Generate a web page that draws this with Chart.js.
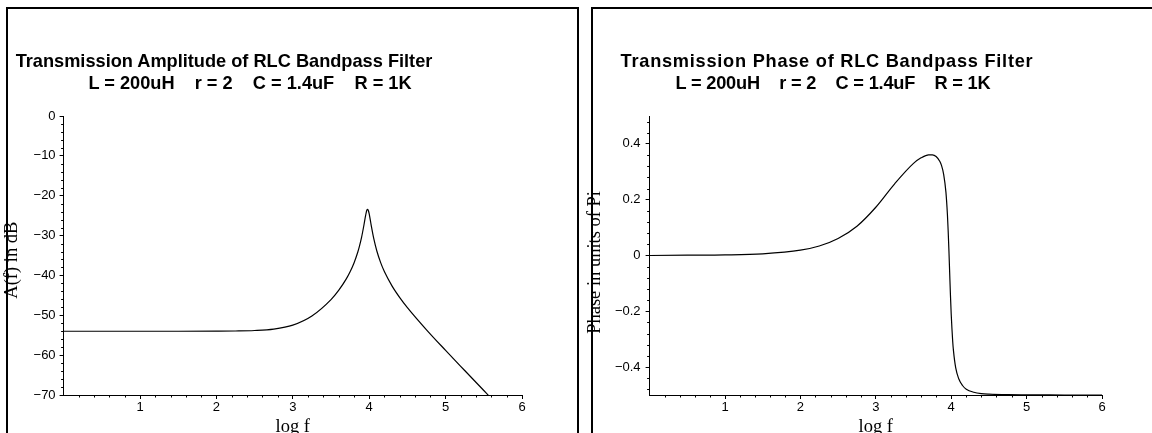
<!DOCTYPE html>
<html>
<head>
<meta charset="utf-8">
<title>RLC Bandpass Filter</title>
<script src="https://cdn.jsdelivr.net/npm/chart.js@4.4.0/dist/chart.umd.min.js"></script>
<style>
    html, body { margin: 0; padding: 0; background: #fff; }
    body { width: 1152px; height: 433px; overflow: hidden; position: relative; font-family: "Liberation Sans", Arial, sans-serif; }
    .frame { position: absolute; top: 7px; height: 600px; border: 2px solid #000; box-sizing: border-box; }
    .plot { position: absolute; top: 0; }
    .title { position: absolute; width: 600px; text-align: center; font-weight: bold; font-size: 18.2px; line-height: 22px; white-space: pre; color: #000; }
</style>
</head>
<body>
<div class="frame" style="left:6px; width:573px;"></div>
<div class="frame" style="left:591px; width:600px;"></div>

<canvas id="ampChart" class="plot" style="left:0;" width="580" height="450"></canvas>
<canvas id="phaseChart" class="plot" style="left:580px;" width="572" height="450"></canvas>

<div class="title" style="left:-76px; top:50px;">Transmission Amplitude of RLC Bandpass Filter</div>
<div class="title" style="left:-50px; top:72px;">L = 200uH    r = 2    C = 1.4uF    R = 1K</div>
<div class="title" style="left:527px; top:50px; letter-spacing:0.75px;">Transmission Phase of RLC Bandpass Filter</div>
<div class="title" style="left:533px; top:72px; letter-spacing:-0.2px;">L = 200uH    r = 2    C = 1.4uF    R = 1K</div>

<script>
// log10 of frequency (shared x values)
const logF = [0, 0.5, 1, 1.5, 2, 2.25, 2.5, 2.75, 3, 3.25, 3.5, 3.6, 3.7, 3.75, 3.8, 3.85, 3.87, 3.9,
    3.93, 3.95, 3.96, 3.97, 3.98, 3.99, 4.0, 4.02, 4.03, 4.06, 4.1, 4.15, 4.2, 4.3, 4.4, 4.5,
    4.75, 5.0, 5.25, 5.5, 5.56, 6];

// A(f) in dB
const amplitudeDb = [-54.0, -54.0, -54.0, -54.0, -53.98, -53.94, -53.82, -53.46, -52.46, -50.17, -46.06, -43.76, -40.87, -39.08, -36.93, -34.19, -32.85, -30.45,
    -27.47, -25.27, -24.29, -23.60, -23.41, -23.76, -24.56, -26.72, -27.83, -30.79, -33.87, -36.78, -39.08, -42.67, -45.55, -48.07,
    -53.64, -58.81, -63.86, -68.88, -70.08, -78.9];

// phase in units of Pi
const phasePi = [0.000, 0.001, 0.002, 0.006, 0.019, 0.034, 0.061, 0.105, 0.173, 0.257, 0.330, 0.350, 0.361, 0.361, 0.355, 0.337, 0.324, 0.291,
    0.227, 0.146, 0.087, 0.016, -0.064, -0.142, -0.210, -0.308, -0.341, -0.403, -0.442, -0.466, -0.479, -0.490, -0.495, -0.497,
    -0.499, -0.4995, -0.4998, -0.500, -0.500, -0.500];

// axis ranges
const xRange = [0, 6];
const ampRange = [-70, 0];
const phaseRange = [-0.5, 0.5];

Chart.defaults.font.family = '"Liberation Sans", Arial, sans-serif';
Chart.defaults.color = '#000';

const near = (a, b) => Math.abs(a - b) < 1e-6;
const minus = v => (v < 0 ? '\u2212' : '') + Math.abs(v);

const xTicks = { major: v => near(v, Math.round(v)), minor: v => true };
const ampTicks = { major: v => near(v / 10, Math.round(v / 10)), minor: v => true };
const phaseTicks = { major: v => near(v * 5, Math.round(v * 5)), minor: v => near(v * 25, Math.round(v * 25)) };

// short minor tick marks, drawn outside the axis line
function minorTicksPlugin(defs) {
    return {
        id: 'minorTicks',
        afterDraw(chart) {
            const ctx = chart.ctx;
            ctx.save();
            ctx.strokeStyle = '#000';
            ctx.lineWidth = 1;
            Object.values(chart.scales).forEach(scale => {
                const def = defs[scale.id];
                if (!def) return;
                scale.ticks.forEach(t => {
                    const v = t.value;
                    if (def.major(v) || !def.minor(v) || near(v, scale.min) || near(v, scale.max)) return;
                    const p = Math.round(scale.getPixelForValue(v)) + 0.5;
                    ctx.beginPath();
                    if (scale.isHorizontal()) {
                        ctx.moveTo(p, scale.top);
                        ctx.lineTo(p, scale.top + 2.5);
                    } else {
                        ctx.moveTo(scale.right, p);
                        ctx.lineTo(scale.right - 2.5, p);
                    }
                    ctx.stroke();
                });
            });
            ctx.restore();
        }
    };
}

function tickGrid(def, skipMin) {
    return {
        display: true,
        drawOnChartArea: false,
        drawTicks: true,
        tickLength: 4,
        tickWidth: 1,
        tickColor: c => {
            const v = c.tick ? c.tick.value : NaN;
            if (skipMin !== undefined && near(v, skipMin)) return 'rgba(0,0,0,0)';
            return def.major(v) ? '#000' : 'rgba(0,0,0,0)';
        }
    };
}

function makeChart(id, values, yRange, yStep, yDef, yLabel, yFormat, yAxisWidth, yTitlePad, yTickPad, padRight) {
    const points = logF.map((x, i) => ({ x: x, y: values[i] }));
    return new Chart(document.getElementById(id), {
        type: 'line',
        data: {
            datasets: [{
                data: points,
                borderColor: '#000',
                borderWidth: 1.2,
                pointRadius: 0,
                fill: false,
                cubicInterpolationMode: 'monotone'
            }]
        },
        options: {
            responsive: false,
            animation: false,
            events: [],
            layout: { padding: { left: 0, right: padRight, top: 116, bottom: 0 } },
            plugins: { legend: { display: false }, tooltip: { enabled: false } },
            scales: {
                x: {
                    type: 'linear',
                    min: xRange[0],
                    max: xRange[1],
                    grid: tickGrid(xTicks, xRange[0]),
                    border: { display: true, color: '#000', width: 1 },
                    ticks: {
                        stepSize: 0.2,
                        maxTicksLimit: 1000,
                        autoSkip: false,
                        maxRotation: 0,
                        padding: 1,
                        font: { size: 13 },
                        callback: v => (xTicks.major(v) && !near(v, 0)) ? String(Math.round(v)) : ''
                    },
                    title: {
                        display: true,
                        text: 'log f',
                        font: { family: '"Liberation Serif", "Times New Roman", serif', size: 18.5 },
                        padding: { top: 0, bottom: 12 }
                    },
                    afterFit: s => { s.height = 55; }
                },
                y: {
                    type: 'linear',
                    min: yRange[0],
                    max: yRange[1],
                    grid: tickGrid(yDef),
                    border: { display: true, color: '#000', width: 1 },
                    ticks: {
                        stepSize: yStep,
                        maxTicksLimit: 1000,
                        autoSkip: false,
                        padding: yTickPad,
                        font: { size: 13 },
                        callback: v => yDef.major(v) ? yFormat(v) : ''
                    },
                    title: {
                        display: true,
                        text: yLabel,
                        font: { family: '"Liberation Serif", "Times New Roman", serif', size: 18.5 },
                        padding: { top: yTitlePad, bottom: 0 }
                    },
                    afterFit: s => { s.width = yAxisWidth; }
                }
            }
        },
        plugins: [minorTicksPlugin({ x: xTicks, y: yDef })]
    });
}

// trailing spaces nudge the rotated titles down a few pixels, as in the original
makeChart('ampChart', amplitudeDb, ampRange, 2, ampTicks, 'A(f) in dB  ',
    v => minus(Math.round(v)), 63.6, 1, 4, 58);

makeChart('phaseChart', phasePi, phaseRange, 0.02, phaseTicks, 'Phase in units of Pi   ',
    v => near(v, 0) ? '0' : (v < 0 ? '\u2212' : '') + Math.abs(v).toFixed(1), 69.6, 4, 5, 50);
</script>
</body>
</html>
